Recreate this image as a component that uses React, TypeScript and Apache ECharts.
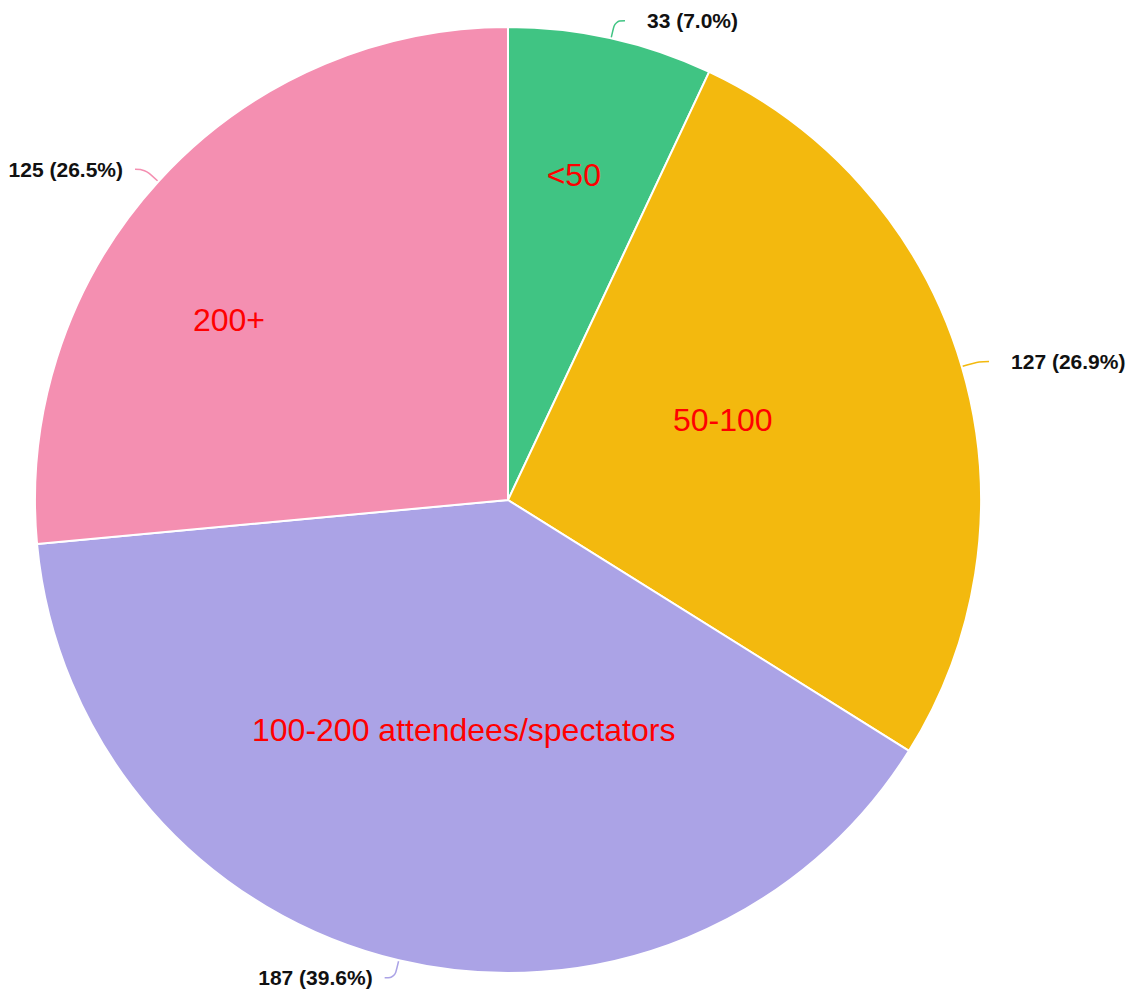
import React, { useEffect, useRef } from "react";
import * as echarts from "echarts";

const categories = ["<50", "50-100", "100-200 attendees/spectators", "200+"];
const values = [33, 127, 187, 125];
const colors = ["#40c483", "#f3b90e", "#aba3e6", "#f48fb1"];

// which inner labels sit further out (at 70% of the radius)
const farLabels = ["<50", "200+"];
// small nudges of the inner labels, in pixels
const innerNudges: Record<string, number[]> = {
  "<50": [-7, 1],
  "50-100": [-15, -12],
  "100-200 attendees/spectators": [11, -3],
  "200+": [-32, 45],
};

export default function App() {
  const ref = useRef<HTMLDivElement>(null);
  useEffect(() => {
    if (!ref.current) return;
    const chart = echarts.init(ref.current, undefined, { renderer: "svg" });
    const R = 473;
    const center = [508, 500];
    const font = "'Liberation Sans', Arial, Helvetica, sans-serif";
    const base = categories.map((name, i) => ({ name, value: values[i] }));
    const total = values.reduce((a, b) => a + b, 0);
    let cum = 0;
    const onLeft = values.map((v) => {
      const mid = (cum + v / 2) / total;
      cum += v;
      return mid > 0.5;
    });
    const innerLabel = {
      show: true,
      position: "inside",
      color: "#ff0000",
      fontSize: 32,
      fontFamily: font,
      fontWeight: "normal",
      formatter: "{b}",
    };
    const hiddenItem = { color: "rgba(0,0,0,0)", borderWidth: 0 };
    chart.setOption({
      animation: false,
      backgroundColor: "#ffffff",
      series: [
        {
          type: "pie",
          center,
          radius: [0, R],
          startAngle: 90,
          clockwise: true,
          percentPrecision: 1,
          silent: true,
          avoidLabelOverlap: false,
          itemStyle: { borderColor: "#ffffff", borderWidth: 2 },
          emphasis: { disabled: true },
          data: base.map((d, i) => ({
            ...d,
            itemStyle: { color: colors[i] },
            labelLine: { lineStyle: { color: colors[i] } },
            label: { distanceToLabelLine: onLeft[i] ? 12 : 22 },
          })),
          label: {
            show: true,
            position: "outside",
            color: "#111111",
            fontSize: 21,
            fontWeight: "bold",
            fontFamily: font,
            distanceToLabelLine: 22,
            formatter: (p: any) => `${p.value} (${Number(p.percent).toFixed(1)}%)`,
          },
          labelLine: { show: true, length: 18, length2: 10, smooth: 0.4, lineStyle: { width: 1.5 } },
        },
        {
          type: "pie",
          center,
          radius: [0, R],
          startAngle: 90,
          clockwise: true,
          silent: true,
          emphasis: { disabled: true },
          itemStyle: hiddenItem,
          labelLine: { show: false },
          label: innerLabel,
          data: base.map((d) => ({ ...d, label: { show: !farLabels.includes(d.name), offset: innerNudges[d.name] } })),
        },
        {
          type: "pie",
          center,
          radius: [R * 0.4, R],
          startAngle: 90,
          clockwise: true,
          silent: true,
          emphasis: { disabled: true },
          itemStyle: hiddenItem,
          labelLine: { show: false },
          label: innerLabel,
          data: base.map((d) => ({ ...d, label: { show: farLabels.includes(d.name), offset: innerNudges[d.name] } })),
        },
      ],
    });
    return () => chart.dispose();
  }, []);
  return (
    <div
      ref={ref}
      style={{ position: "fixed", left: 0, top: 0, width: 1138, height: 998 }}
    />
  );
}
